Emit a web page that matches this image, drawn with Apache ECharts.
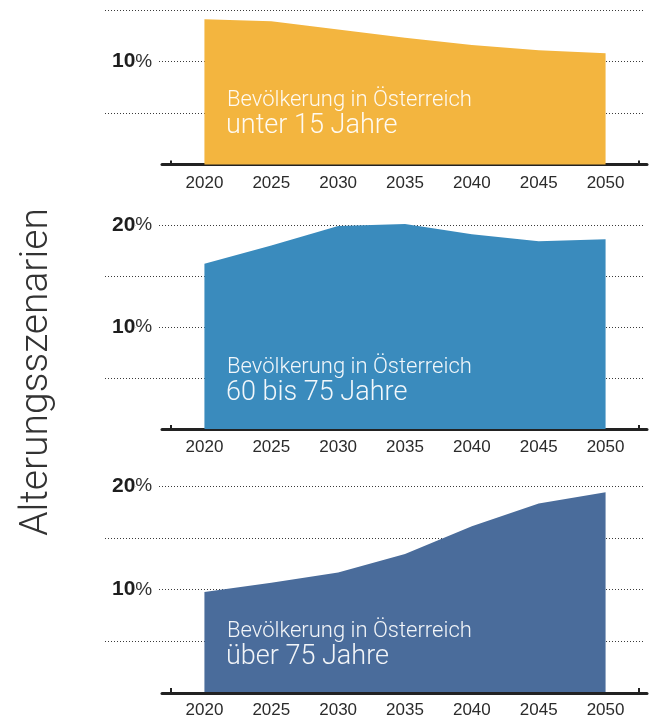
<!DOCTYPE html>
<html>
<head>
<meta charset="utf-8">
<script src="https://cdn.jsdelivr.net/npm/echarts@6/dist/echarts.min.js"></script>
<style>
html, body { margin: 0; padding: 0; background: #fff; }
#main { width: 654px; height: 719px; }
</style>
</head>
<body>
<div id="main"></div>
<script>
// Daten (Anteil an der Bevölkerung in %)
var years = ['2020', '2025', '2030', '2035', '2040', '2045', '2050'];
var unter15 = [14.1, 13.9, 13.1, 12.3, 11.6, 11.1, 10.8];
var von60bis75 = [16.2, 18.0, 19.9, 20.1, 19.1, 18.4, 18.6];
var ueber75 = [9.7, 10.6, 11.6, 13.4, 16.1, 18.3, 19.4];
var axisMax = [15, 20, 20];
var labelledTicks = [10, 20];
var headline = 'Bevölkerung in Österreich';
var groupNames = ['unter 15 Jahre', '60 bis 75 Jahre', 'über 75 Jahre'];

var seriesData = [unter15, von60bis75, ueber75];
var colors = ['#f3b53f', '#3a8bbd', '#4a6c9b'];
// pixel layout of each panel: top line (max) and baseline (0)
var panels = [
  { top: 10, zero: 164.5, textY: 100 },
  { top: 225, zero: 429, textY: 367 },
  { top: 486, zero: 693, textY: 631 }
];
var labelFont = "'Liberation Sans', Arial, sans-serif";

var chart = echarts.init(document.getElementById('main'));

var grid = [], xAxis = [], yAxis = [], series = [], graphic = [];

panels.forEach(function (p, i) {
  var h = p.zero - p.top;
  var g = grid.length;
  // grid for dotted guide lines
  grid.push({ left: 105, right: 11, top: p.top, height: h * (axisMax[i] - 5) / axisMax[i] });
  // grid for the area
  grid.push({ left: 171, width: 468, top: p.top, height: h });
  // grid for the long axis line
  grid.push({ left: 162, width: 485, top: p.top, height: h });

  xAxis.push({ gridIndex: g, type: 'value', show: false, min: 0, max: 1 });
  yAxis.push({
    gridIndex: g, type: 'value', min: 5, max: axisMax[i], interval: 5,
    axisLine: { show: false }, axisTick: { show: false },
    splitLine: { lineStyle: { color: '#3a3a3a', width: 1, type: [1, 2] } },
    axisLabel: {
      inside: true, margin: 0,
      formatter: function (v) {
        return labelledTicks.indexOf(v) >= 0 ? '{b|' + v + '}{p|%}' : '';
      },
      rich: {
        b: { fontFamily: labelFont, fontWeight: 'bold', fontSize: 21, color: '#1e1e1e',
             backgroundColor: '#fff', padding: [0, 0, 0, 7], lineHeight: 24 },
        p: { fontFamily: labelFont, fontSize: 19, color: '#333',
             backgroundColor: '#fff', padding: [0, 6, 0, 0], lineHeight: 24 }
      }
    }
  });

  xAxis.push({
    gridIndex: g + 1, type: 'category', data: years, boundaryGap: true,
    axisLine: { show: false },
    axisTick: { show: true, inside: true, length: 4, lineStyle: { color: '#222', width: 2 } },
    axisLabel: { margin: 10, fontFamily: labelFont, fontSize: 17, color: '#2b2b2b' }
  });
  yAxis.push({ gridIndex: g + 1, type: 'value', min: 0, max: axisMax[i], show: false });

  xAxis.push({
    gridIndex: g + 2, type: 'value', min: 0, max: 1,
    axisLine: { show: true, lineStyle: { color: '#222', width: 3 } },
    axisTick: { show: false }, axisLabel: { show: false }, splitLine: { show: false }
  });
  yAxis.push({ gridIndex: g + 2, type: 'value', min: 0, max: 1, show: false });

  series.push({
    type: 'line', xAxisIndex: g + 1, yAxisIndex: g + 1,
    data: seriesData[i], showSymbol: false, clip: false, z: 3,
    lineStyle: { width: 0 },
    areaStyle: { color: colors[i], opacity: 1 },
    silent: true
  });

  graphic.push({
    type: 'text', x: 227, y: p.textY, z: 100,
    style: { text: headline, fill: 'rgba(255,255,255,0.93)', fontFamily: 'Roboto', fontWeight: 300,
             fontSize: 22, verticalAlign: 'middle' }
  });
  graphic.push({
    type: 'text', x: 226, y: p.textY + 26, z: 100,
    style: { text: groupNames[i], fill: 'rgba(255,255,255,0.93)', fontFamily: 'Roboto', fontWeight: 300,
             fontSize: 27, verticalAlign: 'middle' }
  });
});

graphic.push({
  type: 'text', x: 37, y: 372, rotation: Math.PI / 2, z: 100,
  style: { text: 'Alterungsszenarien', fill: '#333', fontFamily: 'Roboto', fontWeight: 300,
           fontSize: 39, align: 'center', verticalAlign: 'middle' }
});

chart.setOption({
  animation: false,
  backgroundColor: '#fff',
  grid: grid,
  xAxis: xAxis,
  yAxis: yAxis,
  series: series,
  graphic: graphic
});
</script>
</body>
</html>
